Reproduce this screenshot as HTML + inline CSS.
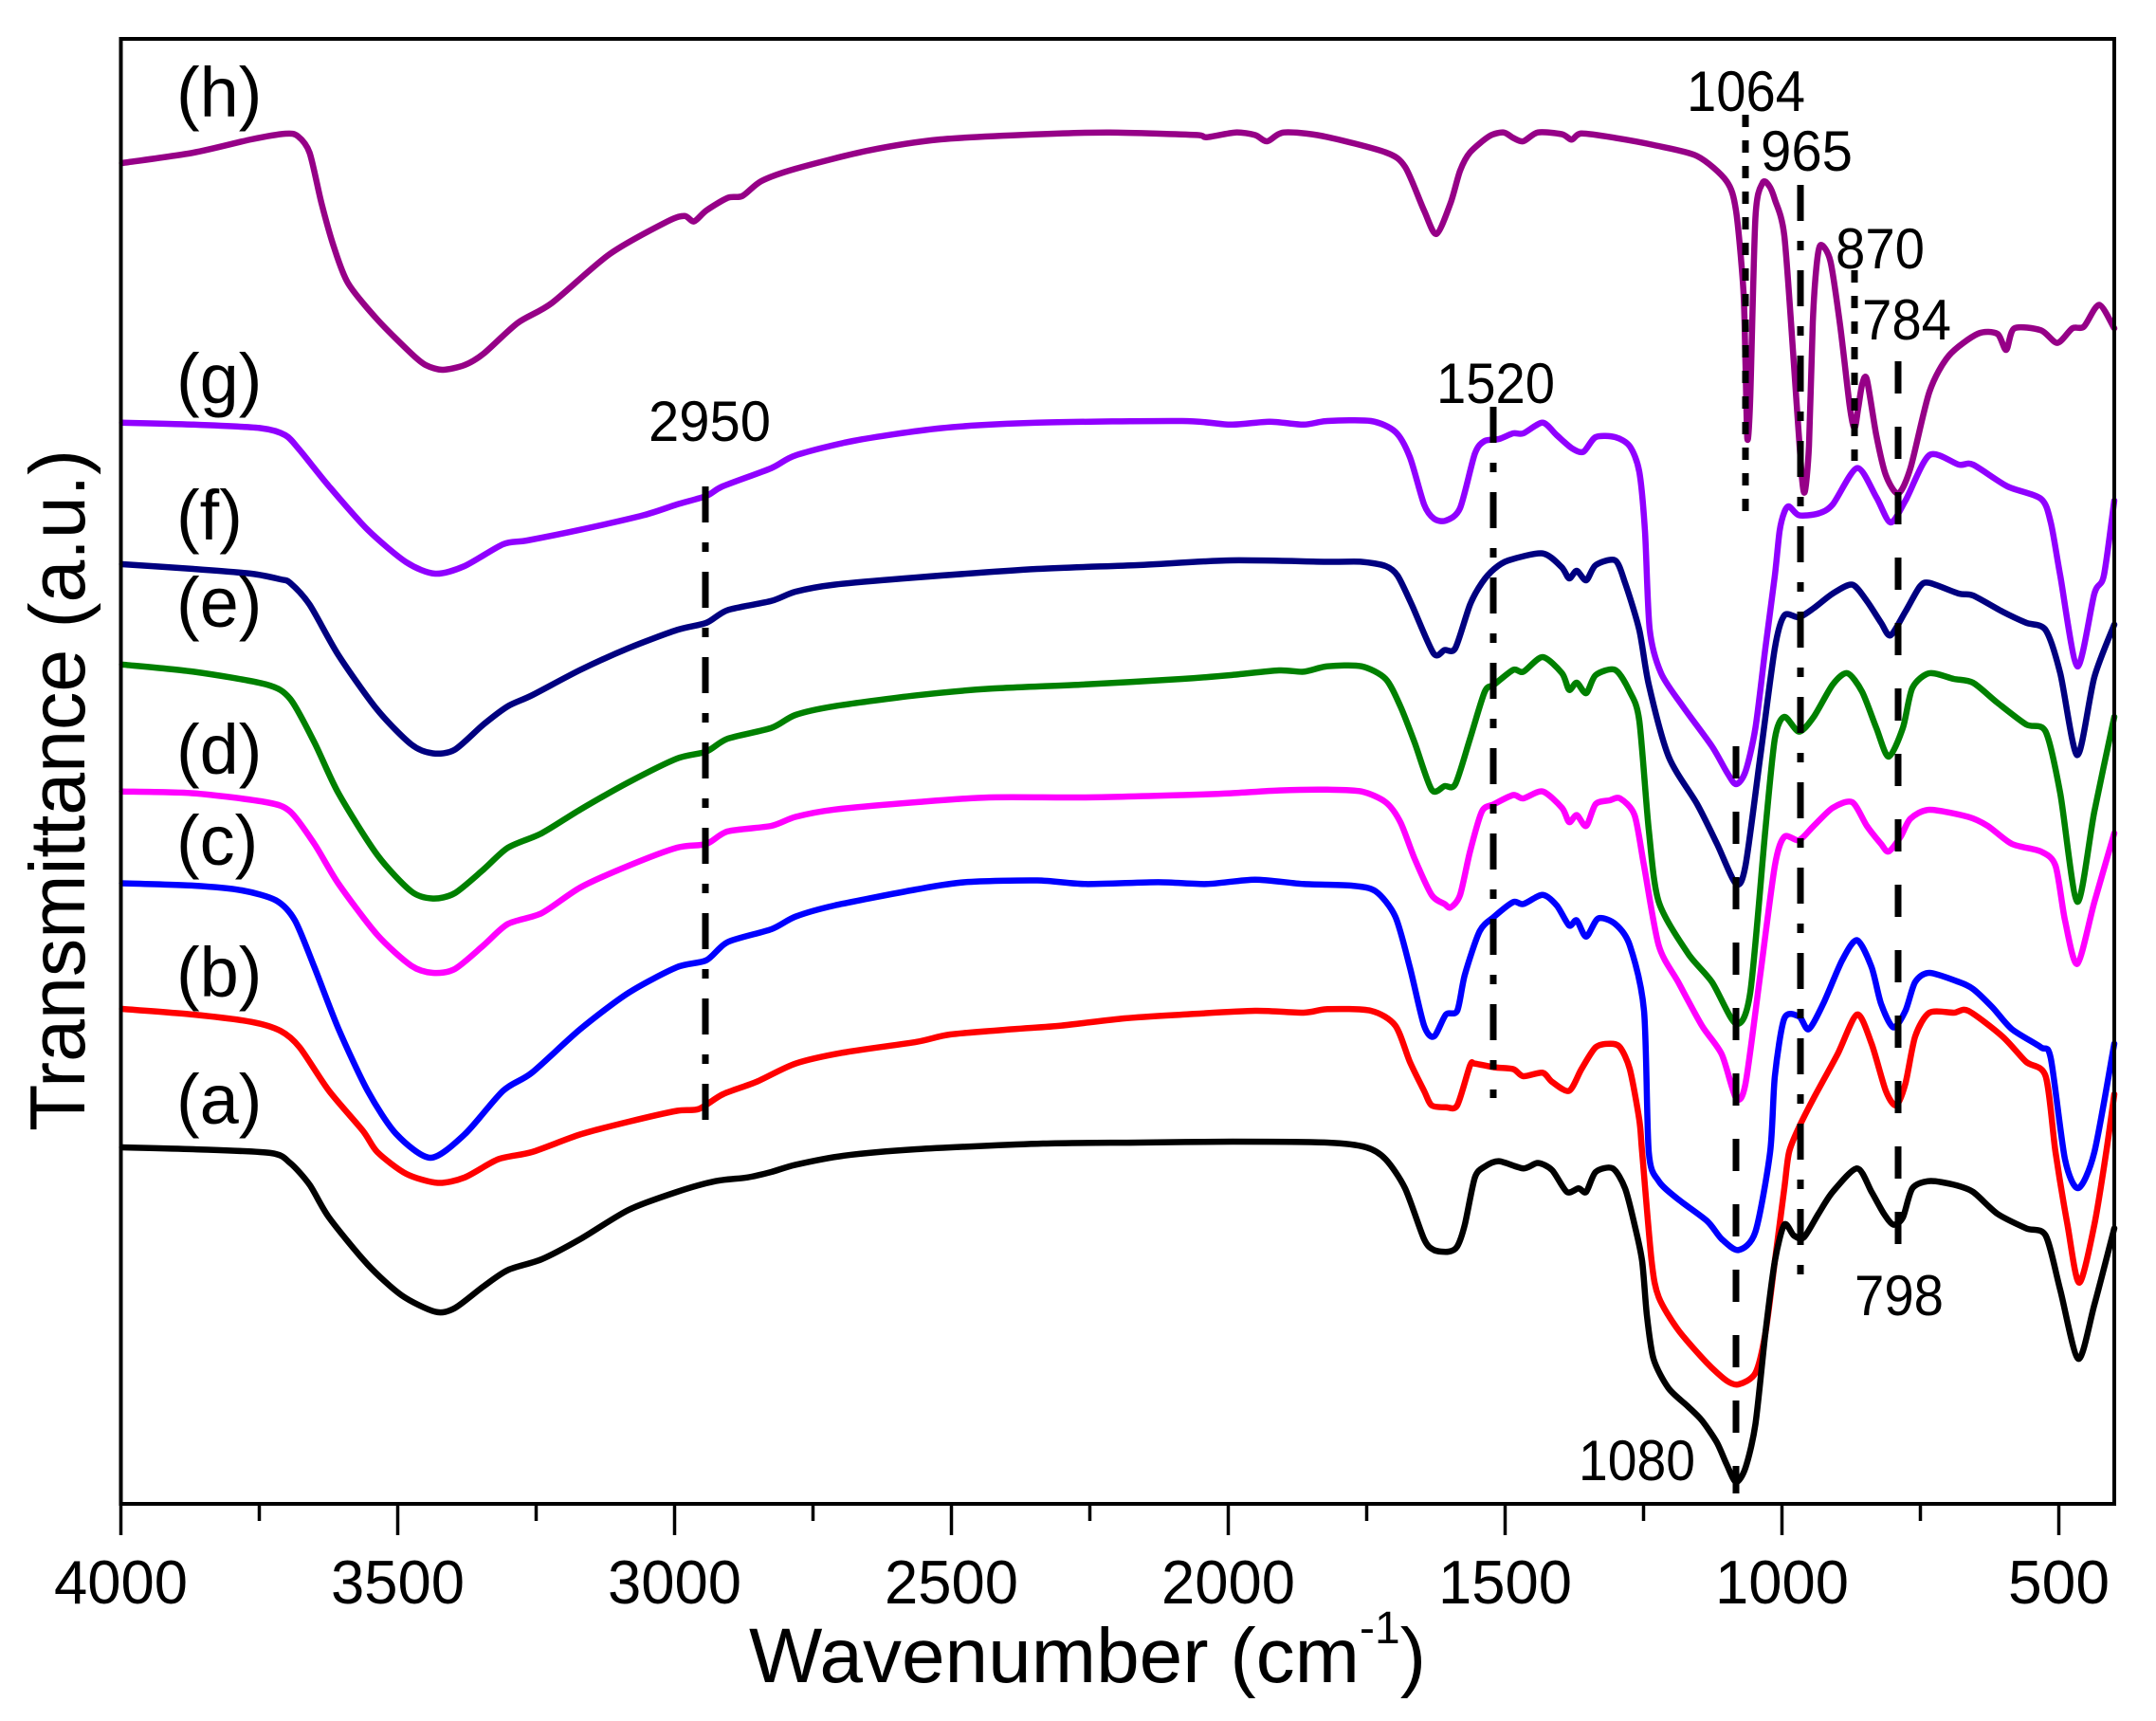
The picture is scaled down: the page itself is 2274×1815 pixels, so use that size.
<!DOCTYPE html>
<html><head><meta charset="utf-8"><style>
html,body{margin:0;padding:0;background:#fff;}
svg{display:block;}
text{font-family:"Liberation Sans",Arial,sans-serif;fill:#000;}
</style></head><body>
<svg id="chart" width="2274" height="1815" viewBox="0 0 2274 1815" xmlns="http://www.w3.org/2000/svg">
<rect width="2274" height="1815" fill="#fff"/>
<g id="curves" fill="none" stroke-linejoin="round" stroke-linecap="round" stroke-width="6.5">
<polyline stroke="#960087" points="128.6,172 204,161 265,147 301,141 314,143.5 326.5,161 339,214 352,260 367,298.5 398,337 434,373 449,385 467,390 490,385 510,373 546,340.6 582,319.6 643,268 704,233.5 722,227.7 732,233.5 745,222 767.6,208.6 783,206.7 803,191 839,178 915.6,158.8 992,147 1094,141.6 1170.7,139.7 1262.5,142.4 1272.7,144.7 1303,139.7 1323.7,142.4 1336.5,149 1354,139.7 1395,143.5 1461.5,160.7 1482,176 1502,222 1515,246.8 1530,214 1540,180 1550.5,160.7 1571,143.5 1586,139.7 1596,145.4 1606.7,149 1622,139.7 1647.5,141.6 1657.7,147.3 1668,140.8 1703.6,145.4 1744.4,153 1790,164.6 1821,191 1831,222 1838.8,306 1841,382.7 1843,463 1846,421 1851.5,229.6 1859,193 1866,196 1872,210.5 1882,248.8 1892,382.7 1900,497.5 1903.6,518.6 1908,470 1912,340 1916,280 1920.4,258.3 1930.6,275.5 1941,344.4 1951,428.6 1956,451.6 1960,430 1964,405.7 1969,400 1979,459 1989,501 2002,520.5 2015,493.7 2035,413.3 2055.6,375 2086,352 2106.6,352 2116,369 2124.5,346.3 2152.6,348.3 2170,361.6 2185.7,346.3 2198,344.4 2214,321.5 2230,346.3"/>
<polyline stroke="#9000ff" points="128.6,445.8 204,447.8 275.5,451.6 301,459 316,474.5 347,512.8 387.8,558.7 428.6,593 459,605 490,597 530.6,574 556,570 612,558.7 678.6,543.4 714,532 745,523 762.5,512.8 813.5,493.7 839,480.3 900,465 992,451.6 1094,445.8 1247,444 1298,447.8 1339,444.7 1375,447.8 1400,444 1446,444 1471.7,455.4 1487,482 1502,532 1512.5,547 1525,549 1540,535.8 1555.6,478.4 1566,465 1581,463 1596,457 1606.7,457 1627,445.8 1642,459 1657.7,472.6 1670,476.5 1683,461 1703.6,461 1719,470.7 1729,497.5 1735,560 1740,664 1752,710 1775,745 1805.6,787 1821,813.7 1831,827 1841,813.7 1851.5,767.7 1862,683.5 1872,607 1877,560 1882,540 1887,534 1897.5,543.4 1918,541.5 1933,532 1958.7,493.7 1979,524.3 1994,551 2009.7,528 2035,480 2066,490 2081,490 2117,512.8 2152.6,526 2163,551 2173,607 2191,702.7 2209,626 2219,607 2230,528"/>
<polyline stroke="#000080" points="128.6,595 204,600 265,605 296,611 306,614.7 326.5,637.6 357,691 398,748.6 433.7,785 456.6,794.5 479.6,790.7 510,764 535.7,744.8 561,733.3 612,706.5 663,683.5 714,664.4 745,656.8 767.6,643.4 813.5,633.8 839,624 880,616.6 966.6,609 1094,600 1200,596 1298,591 1400,592.5 1436,592.5 1461.5,597 1474,607 1489,637.6 1512,689 1523.7,685.5 1535,683.5 1550.5,637.6 1563,614.7 1576,600 1591,591 1627,583.6 1647,598 1655,610 1663,602 1673,612 1683,596 1703.6,591 1714,614.7 1729,664.4 1739,722 1760,798 1790,848 1811,890 1831,932 1841,913 1856.6,798 1872,683.5 1882,649 1897.5,651 1913,641.4 1933,626 1953.6,616.6 1969,633.8 1984,656.8 1994,670 2009.7,645 2025,618.5 2035,614.7 2066,626 2081,628 2112,645 2137,656.8 2157.6,664.4 2173,710 2191,796.4 2209,714 2230,658.7"/>
<polyline stroke="#008000" points="128.6,700.8 204,708.4 280.6,721.8 306,737 331.6,783 357,836.6 398,901.7 433.7,940 456.6,947.6 479.6,942 510,917 535.7,894 571.4,878.7 612,853.8 663,825 714,800 745,792.6 767.6,779 813.5,767.7 839,754 880,744.8 966.6,733.3 1043,726.4 1145,721.8 1247,716 1298,712 1349,707 1375,708.4 1400,702.7 1436,702.7 1461.5,716 1477,744.8 1492,783 1510,832.8 1523.7,829 1535,827 1550.5,779 1566,729.5 1576,722 1596,706.5 1606.7,708.4 1627,693 1647.5,710 1655,727.5 1663,720 1673,731 1683,712 1703.6,706.5 1719,729.5 1729,760 1739,875 1749.5,951 1780,1005 1805.6,1035.6 1831,1079.6 1846,1047 1862,875 1872,779 1882,756 1897.5,771.6 1913,756 1933,722 1948.5,710 1964,729.5 1979,767.7 1992,798 2007,767.7 2017,725.6 2035,710 2060.7,716 2081,720 2106.6,741 2137,764 2157.6,771.6 2173,836.6 2191,951 2209,855.8 2230,756"/>
<polyline stroke="#ff00ff" points="128.6,834.7 204,836.6 280.6,846 306,855.8 331.6,890 357,932 398,986 433.7,1018.4 456.6,1026 479.6,1022 510,997 535.7,974.4 571.4,963 612,936 663,913 714,894 745,890 767.6,876.8 813.5,871 839,861.5 880,853.8 966.6,846 1043,841 1145,841 1247,838.5 1298,836.6 1349,833.6 1400,832.8 1436,834.7 1461.5,846 1477,867 1492,905.5 1510,943.8 1523.7,953.4 1530,957 1540,943.8 1550.5,898 1563,855.8 1576,848 1596,838.5 1606.7,842 1627,834.7 1647.5,852 1655,867 1663,859.6 1673,871 1683,848 1698,844 1708.7,842 1724,859.6 1734,913 1749.5,997 1770,1035.6 1795,1081.6 1816,1112 1831,1158 1841,1143 1856.6,1028 1872,913 1882,882.5 1897.5,886 1913,871 1933,852 1953.6,846 1969,871 1984,890 1992,898 2004.6,882.5 2015,863.4 2035,854 2076,861.5 2096.5,871 2122,890 2152.6,898 2168,913 2178,970.6 2191,1016.5 2209,951.4 2230,878.7"/>
<polyline stroke="#0000ff" points="128.6,931.5 204,934 255,939 291,949.5 311,970.6 331.6,1020 357,1085 387.8,1150.4 418,1196 454,1221 490,1196.4 530.6,1150.4 561,1131.3 612,1085.4 663,1047 714,1020 745,1012.7 767.6,993.5 813.5,980 839,966.7 880,955 966.6,938 1017.6,930.4 1094,928.5 1145,932.3 1221.7,930.4 1272.7,932.3 1323.7,927.7 1375,932.3 1425.8,934 1451,940 1471.7,966.7 1487,1020 1502,1081.6 1512.5,1093 1525,1070 1537,1066 1545,1028 1560.7,982 1576,966.7 1596,951.4 1606.7,953.4 1627,943.8 1642,955 1655,976 1663,970.6 1673,987.8 1685.7,968.6 1703.6,974.4 1719,997 1734,1066 1739,1215 1749.5,1245.6 1770,1264.8 1800.5,1287.7 1816,1306.8 1833.7,1318.3 1851.5,1299 1867,1215 1872,1135 1882,1074 1897.5,1072 1907.7,1085.4 1923,1058.6 1943,1012.7 1958.7,991.6 1974,1020 1984,1058.6 1997,1083.5 2009.7,1066 2020,1035.6 2035,1026 2066,1035.6 2081,1043 2101.5,1062.4 2122,1085.4 2152.6,1104.5 2163,1116 2178,1222.6 2192,1253 2209,1215 2230,1100.7"/>
<polyline stroke="#ff0000" points="128.6,1064 204,1070 265,1077.7 296,1087.3 316,1104.5 347,1150.4 382.7,1192.5 398,1215 428.6,1238 461.7,1247.5 490,1241.8 525.5,1222.6 561,1215 612,1196.4 663,1183 714,1171.5 737,1169.6 762.5,1154 798,1140.9 839,1121.7 890,1110 966.6,1098.8 1002,1091 1068.6,1085.4 1119.6,1081.6 1186,1074 1247,1070 1323.7,1066 1375,1068 1400,1064.3 1446,1066 1471.7,1081.6 1487,1119.8 1502,1150.4 1510,1165.7 1525,1167.7 1537,1165.7 1550.5,1123.6 1555.6,1121.7 1576,1125.6 1596,1127.5 1606.7,1135 1627,1131.3 1637,1140.9 1655,1150.4 1668,1127.5 1683,1104.5 1698.5,1100.7 1708.7,1104.5 1719,1127.5 1729,1181 1732,1215 1742,1330 1749.5,1368 1770,1402.5 1800,1437 1821,1456 1833.7,1460 1851.5,1448 1862,1406 1872,1330 1882,1253 1887,1215 1897.5,1188.7 1913,1158 1938,1112 1958.7,1070 1974,1100.7 1989,1150.4 2000,1165.7 2009.7,1142.8 2020,1093 2035,1068 2060.7,1068 2076,1066 2112,1093 2137,1119.8 2157.6,1135 2168,1215 2180.6,1291.5 2193,1352.8 2209,1291.5 2221.5,1215 2230,1154"/>
<polyline stroke="#000000" points="128.6,1210 204,1212 285.7,1216 306,1226.5 326.5,1249.4 347,1284 387.8,1333.6 423.5,1366 459,1383.4 479.6,1379.6 510,1356.6 535.7,1339.4 571.4,1328 612,1306.8 663,1276 714,1257 755,1245.6 788,1241.8 813.5,1236 839,1228.4 890,1218.8 966.6,1212 1100,1206 1200,1205 1300,1204 1400,1205 1441,1210 1461.5,1222.6 1482,1253.3 1502,1306.8 1512.5,1318.3 1528,1320 1537,1314.5 1545,1291.5 1555.6,1241.8 1566,1230.3 1581,1224.6 1606.7,1232.2 1622,1226.5 1637,1234 1652.6,1257 1665,1253.3 1673,1257 1683,1236 1701,1232.2 1714,1253.3 1724,1291.5 1732,1330 1737,1387 1744,1433 1759.7,1463.8 1780,1483 1795,1498 1810.7,1521 1821,1544 1831,1563 1841,1548 1851.5,1502 1862,1406 1872,1330 1882,1291.5 1892,1303 1902.6,1305 1918,1280 1933,1257 1958.7,1232.2 1974,1257 1987,1280 1997,1291.5 2007,1284 2017,1253.3 2035,1245.6 2060.7,1249.4 2081,1257 2106.6,1280 2137,1295.4 2157.6,1303 2173,1360.4 2192,1433 2209,1376 2230,1295.4"/>
</g>
<!-- reference lines -->
<g stroke="#000" stroke-width="7" fill="none">
<line x1="744" y1="513" x2="744" y2="1202" stroke-dasharray="38 21 10 21"/>
<line x1="1575" y1="429" x2="1575" y2="1158" stroke-dasharray="38 21 10 21"/>
<line x1="1899" y1="195" x2="1899" y2="1364" stroke-dasharray="38 21 10 21"/>
<line x1="1841" y1="121" x2="1841" y2="545" stroke-dasharray="13 14"/>
<line x1="1956" y1="285" x2="1956" y2="486" stroke-dasharray="13 14"/>
<line x1="2002" y1="381" x2="2002" y2="1326" stroke-dasharray="34 35"/>
<line x1="1831" y1="787" x2="1831" y2="1575" stroke-dasharray="34 35"/>
</g>
<!-- frame -->
<rect x="127.5" y="41" width="2102.5" height="1545" fill="none" stroke="#000" stroke-width="4"/>
<g stroke="#000" stroke-width="3.5">
<line x1="127.5" y1="1586" x2="127.5" y2="1619"/>
<line x1="273.5" y1="1586" x2="273.5" y2="1604"/>
<line x1="419.5" y1="1586" x2="419.5" y2="1619"/>
<line x1="565.5" y1="1586" x2="565.5" y2="1604"/>
<line x1="711.5" y1="1586" x2="711.5" y2="1619"/>
<line x1="857.5" y1="1586" x2="857.5" y2="1604"/>
<line x1="1003.5" y1="1586" x2="1003.5" y2="1619"/>
<line x1="1149.5" y1="1586" x2="1149.5" y2="1604"/>
<line x1="1295.5" y1="1586" x2="1295.5" y2="1619"/>
<line x1="1441.5" y1="1586" x2="1441.5" y2="1604"/>
<line x1="1587.5" y1="1586" x2="1587.5" y2="1619"/>
<line x1="1733.5" y1="1586" x2="1733.5" y2="1604"/>
<line x1="1879.5" y1="1586" x2="1879.5" y2="1619"/>
<line x1="2025.5" y1="1586" x2="2025.5" y2="1604"/>
<line x1="2171.5" y1="1586" x2="2171.5" y2="1619"/>
</g>
<!-- tick labels -->
<g font-size="65" text-anchor="middle">
<text x="127.5" y="1691" textLength="141" lengthAdjust="spacingAndGlyphs">4000</text>
<text x="419.5" y="1691" textLength="141" lengthAdjust="spacingAndGlyphs">3500</text>
<text x="711.5" y="1691" textLength="141" lengthAdjust="spacingAndGlyphs">3000</text>
<text x="1003.5" y="1691" textLength="141" lengthAdjust="spacingAndGlyphs">2500</text>
<text x="1295.5" y="1691" textLength="141" lengthAdjust="spacingAndGlyphs">2000</text>
<text x="1587.5" y="1691" textLength="141" lengthAdjust="spacingAndGlyphs">1500</text>
<text x="1879.5" y="1691" textLength="141" lengthAdjust="spacingAndGlyphs">1000</text>
<text x="2171.5" y="1691" textLength="107" lengthAdjust="spacingAndGlyphs">500</text>
</g>
<!-- axis titles -->
<text x="790" y="1774" font-size="82">Wavenumber (cm<tspan font-size="48" dy="-41">-1</tspan><tspan font-size="82" dy="41">)</tspan></text>
<text transform="translate(89,833.5) rotate(-90)" font-size="83" text-anchor="middle" textLength="719" lengthAdjust="spacingAndGlyphs">Transmittance (a.u.)</text>
<!-- curve labels -->
<g font-size="74">
<text x="186" y="123">(h)</text>
<text x="186" y="425">(g)</text>
<text x="186" y="569">(f)</text>
<text x="186" y="661">(e)</text>
<text x="186" y="816">(d)</text>
<text x="186" y="912">(c)</text>
<text x="186" y="1051">(b)</text>
<text x="186" y="1185">(a)</text>
</g>
<!-- peak annotations -->
<g font-size="60">
<text x="1779" y="117" textLength="125" lengthAdjust="spacingAndGlyphs">1064</text>
<text x="1857" y="180" textLength="97" lengthAdjust="spacingAndGlyphs">965</text>
<text x="1936" y="283" textLength="94" lengthAdjust="spacingAndGlyphs">870</text>
<text x="1964" y="358" textLength="94" lengthAdjust="spacingAndGlyphs">784</text>
<text x="1515" y="425" textLength="125" lengthAdjust="spacingAndGlyphs">1520</text>
<text x="684" y="465" textLength="129" lengthAdjust="spacingAndGlyphs">2950</text>
<text x="1956" y="1387" textLength="94" lengthAdjust="spacingAndGlyphs">798</text>
<text x="1665" y="1561" textLength="123" lengthAdjust="spacingAndGlyphs">1080</text>
</g>
</svg>
<script>
(function(){
  try{
    var NS="http://www.w3.org/2000/svg";
    var g=document.getElementById("curves");
    var pls=g.querySelectorAll("polyline");
    var k=0.8;
    for(var i=0;i<pls.length;i++){
      var pl=pls[i];
      var raw=pl.getAttribute("points").trim().split(/\s+/);
      var p=[];
      for(var j=0;j<raw.length;j++){var a=raw[j].split(",");p.push([+a[0],+a[1]]);}
      if(p.length<3) continue;
      var d="M"+p[0][0]+","+p[0][1];
      for(var j=0;j<p.length-1;j++){
        var p0=p[j>0?j-1:j],p1=p[j],p2=p[j+1],p3=p[j+2<p.length?j+2:j+1];
        var c1x=p1[0]+(p2[0]-p0[0])/6*k, c1y=p1[1]+(p2[1]-p0[1])/6*k;
        var c2x=p2[0]-(p3[0]-p1[0])/6*k, c2y=p2[1]-(p3[1]-p1[1])/6*k;
        // keep control points x within segment to avoid loops
        var lo=Math.min(p1[0],p2[0]), hi=Math.max(p1[0],p2[0]);
        c1x=Math.max(lo,Math.min(hi,c1x)); c2x=Math.max(lo,Math.min(hi,c2x));
        d+=" C"+c1x.toFixed(2)+","+c1y.toFixed(2)+" "+c2x.toFixed(2)+","+c2y.toFixed(2)+" "+p2[0]+","+p2[1];
      }
      var path=document.createElementNS(NS,"path");
      path.setAttribute("d",d);
      path.setAttribute("stroke",pl.getAttribute("stroke"));
      g.replaceChild(path,pl);
    }
  }catch(e){}
})();
</script>
</body></html>
